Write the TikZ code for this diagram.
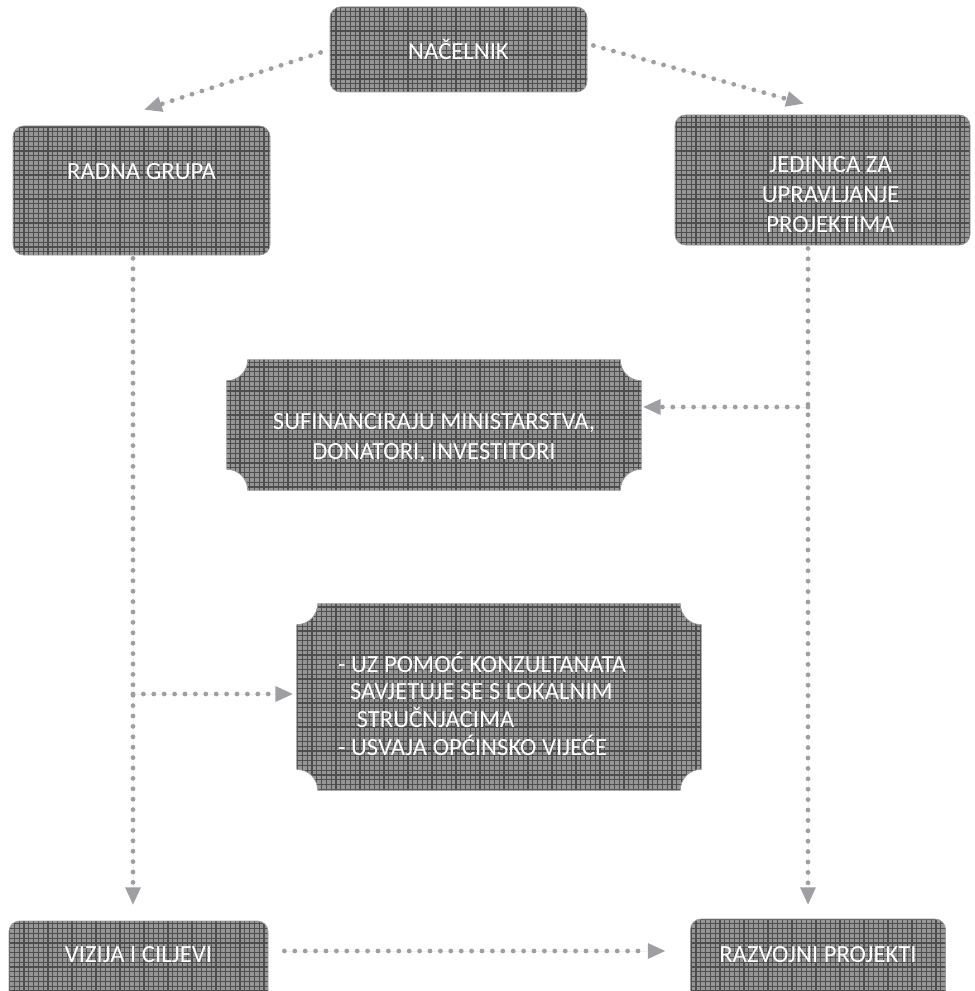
\documentclass[tikz,border=0pt]{standalone}
\usepackage{fontspec}
\setmainfont{Carlito}
\usetikzlibrary{arrows.meta,patterns,backgrounds,calc}

\definecolor{boxfill}{RGB}{150,150,150}
\definecolor{boxline}{RGB}{78,78,78}
\definecolor{boxedge}{RGB}{155,155,155}
\definecolor{arrowgray}{RGB}{158,158,163}

\pgfdeclarepatternformonly{boxgrid}{\pgfqpoint{-1pt}{-1pt}}{\pgfqpoint{4.6pt}{4.6pt}}{\pgfqpoint{3.6pt}{3.6pt}}{%
  \pgfsetlinewidth{0.9pt}
  \pgfpathmoveto{\pgfqpoint{0pt}{0pt}}\pgfpathlineto{\pgfqpoint{0pt}{3.7pt}}
  \pgfpathmoveto{\pgfqpoint{0pt}{0pt}}\pgfpathlineto{\pgfqpoint{3.7pt}{0pt}}
  \pgfusepath{stroke}}

\newcommand{\plaque}[1]{%
  \path[plaquefill] ($(#1.north west)+(21,0)$) -- ($(#1.north east)+(-21,0)$)
    arc[start angle=180,end angle=270,radius=21] -- ($(#1.south east)+(0,21)$)
    arc[start angle=90,end angle=180,radius=21] -- ($(#1.south west)+(21,0)$)
    arc[start angle=0,end angle=90,radius=21] -- ($(#1.north west)+(0,-21)$)
    arc[start angle=270,end angle=360,radius=21] -- cycle;}

\begin{document}
\begin{tikzpicture}[x=0.75pt,y=0.75pt,
    box/.style={rectangle,rounded corners=8pt,draw=boxedge,line width=0.6pt,
      preaction={fill=boxfill},pattern=boxgrid,pattern color=boxline,inner sep=0pt},
    plaque/.style={rectangle,inner sep=0pt},
    plaquefill/.style={draw=boxedge,line width=0.6pt,preaction={fill=boxfill},
      pattern=boxgrid,pattern color=boxline},
    txt/.style={text=white,font=\fontsize{18.5}{22.5}\selectfont,align=center,inner sep=0pt},
    conn/.style={draw=arrowgray,line width=3.6pt,line cap=round,dash pattern=on 0pt off 7.8pt,
      -{Triangle[length=13pt,width=12pt,line width=0pt]},fill=arrowgray}]
  \clip (0,0) rectangle (974,-991);

  \node[box,minimum width=192.75pt,minimum height=63.75pt,
    label={[txt,name=nacelnikText]center:NAČELNIK}] (nacelnik) at (458.5,-49.5) {};
  \node[box,minimum width=192.75pt,minimum height=96.75pt,
    label={[txt,name=radnaText,yshift=13.9pt]center:RADNA GRUPA}] (radna) at (141.5,-190.5) {};
  \node[box,minimum width=221.25pt,minimum height=97.5pt,
    label={[txt,name=jedinicaText,xshift=6pt,yshift=-11.25pt]center:JEDINICA ZA\\UPRAVLJANJE\\PROJEKTIMA}] (jedinica) at (822.5,-180) {};
  \node[plaque,minimum width=310.5pt,minimum height=97.5pt,
    label={[txt,name=sufinText,yshift=-9.75pt]center:SUFINANCIRAJU MINISTARSTVA,\\DONATORI, INVESTITORI}] (sufin) at (434,-425) {};
  \node[plaque,minimum width=303pt,minimum height=139.5pt,
    label={[txt,name=savjetText,align=left,anchor=west,xshift=30.75pt,yshift=-4.9pt,
      font=\fontsize{18.5}{20.8}\selectfont]west:- UZ POMOĆ KONZULTANATA\\\hspace*{9pt}SAVJETUJE SE S LOKALNIM\\\hspace*{14pt}STRUČNJACIMA\\- USVAJA OPĆINSKO VIJEĆE}] (savjet) at (499,-697) {};
  \node[box,minimum width=194.25pt,minimum height=66pt,
    label={[txt,name=vizijaText,yshift=7.5pt]center:VIZIJA I CILJEVI}] (vizija) at (138.5,-965) {};
  \node[box,minimum width=191.25pt,minimum height=66pt,
    label={[txt,name=razvojniText,yshift=6pt]center:RAZVOJNI PROJEKTI}] (razvojni) at (818,-963) {};

  \begin{pgfonlayer}{background}
    \plaque{sufin}
    \plaque{savjet}
  \end{pgfonlayer}

  % dotted links
  \coordinate (colL) at (133,0);
  \coordinate (colR) at (808,0);
  \coordinate (sufIn) at ($(sufin.east)+(2,18)$);
  \coordinate (savIn) at ($(savjet.west)+(-4,3)$);
  \draw[conn] ($(nacelnik.west)+(-9,-3)$) -- ($(radna.north)+(3,16)$);
  \draw[conn] ($(nacelnik.east)+(6,4)$) -- ($(jedinica.north)+(-19,11)$);
  \draw[conn] ($(radna.south -| colL)+(0,-3)$) -- ($(vizija.north -| colL)+(0,16)$);
  \draw[conn] ($(jedinica.south -| colR)+(0,-3)$) -- ($(razvojni.north -| colR)+(0,14)$);
  \draw[conn] (sufIn -| colR) -- (sufIn);
  \draw[conn] (savIn -| colL) -- (savIn);
  \draw[conn] ($(vizija.east)+(16,14)$) -- ($(razvojni.west)+(-25,12)$);
\end{tikzpicture}
\end{document}
